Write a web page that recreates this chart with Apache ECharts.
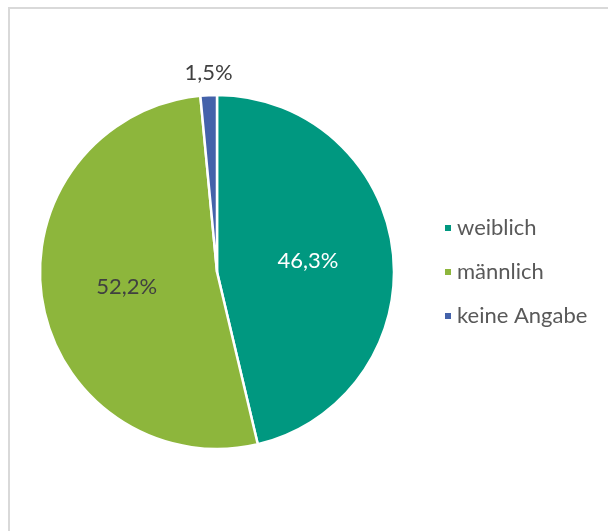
<!DOCTYPE html>
<html>
<head>
<meta charset="utf-8">
<script src="https://cdn.jsdelivr.net/npm/echarts@6/dist/echarts.min.js"></script>
<style>
  html, body { margin: 0; padding: 0; background: #fff; overflow: hidden; }
  .frame {
    position: absolute; left: 8px; top: 7px;
    width: 620px; height: 540px;
    border: 2px solid #d9d9d9;
  }
  #chart { position: absolute; left: 0; top: 0; width: 608px; height: 531px; }
</style>
</head>
<body>
<div class="frame"></div>
<div id="chart"></div>
<script>
// Daten
var categories = ['weiblich', 'männlich', 'keine Angabe'];
var values = [46.3, 52.2, 1.5];
var colors = ['#009880', '#8db63c', '#4462aa'];

var chart = echarts.init(document.getElementById('chart'));

var seriesData = categories.map(function (name, i) {
  var item = { name: name, value: values[i], itemStyle: { color: colors[i] } };
  if (i === 2) {
    // kleiner Anteil: Beschriftung außerhalb
    item.label = { position: 'outside', color: '#404040' };
    item.labelLine = { show: false, length: 6, length2: 0 };
  } else if (i === 0) {
    item.label = { position: 'inner', color: '#ffffff' };
  } else {
    item.label = { position: 'inner', color: '#404040' };
  }
  return item;
});

var option = {
  animation: false,
  legend: {
    orient: 'vertical',
    left: 438,
    top: 212,
    icon: 'rect',
    itemWidth: 8,
    itemHeight: 8,
    itemGap: 22,
    textStyle: { fontFamily: 'Lato', fontSize: 22, color: '#595959' },
    data: categories
  },
  series: [{
    type: 'pie',
    center: [217, 272],
    radius: 177,
    startAngle: 90,
    clockwise: true,
    avoidLabelOverlap: false,
    itemStyle: { borderColor: '#fff', borderWidth: 2.5 },
    label: {
      fontFamily: 'Lato',
      fontSize: 22,
      formatter: function (p) { return p.value.toFixed(1).replace('.', ',') + '%'; }
    },
    // Außenbeschriftung mittig über dem Segment
    labelLayout: function (p) {
      if (p.dataIndex !== 2) return {};
      var pt = p.labelLinePoints[0];
      return { x: pt[0], y: pt[1] - 22, align: 'center', verticalAlign: 'middle' };
    },
    emphasis: { disabled: true },
    data: seriesData
  }]
};

chart.setOption(option);
</script>
</body>
</html>
